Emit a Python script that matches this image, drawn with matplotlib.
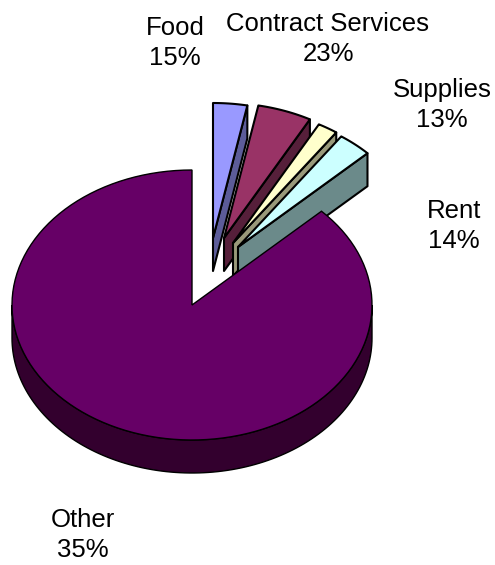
import numpy as np
import matplotlib
matplotlib.use("Agg")
import matplotlib.pyplot as plt
from matplotlib.patches import Polygon

categories = ["Food", "Contract Services", "Supplies", "Rent", "Other"]
labels_pct = [15, 23, 13, 14, 35]
# Drawn slice sweep (degrees, clockwise from top)
sweep_deg = [11.0, 17.5, 6.5, 11.0, 314.0]
explode_x = [21, 32, 41, 46, 0]
explode_y = [-67, -67, -62, -58, 0]
top_colors = ["#9999FF", "#993366", "#FFFFCC", "#CCFFFF", "#660066"]
side_colors = ["#5C5C99", "#561F3A", "#99997A", "#6B8A8A", "#33002E"]
label_x = [175, 328, 442, 454, 83]
label_y = [43, 39, 105, 226, 535]

CX, CY, RX, RY, DEPTH = 192, 305, 180, 135, 33
LW = 1.5

fig = plt.figure(figsize=(4.95, 5.65), dpi=100)
ax = fig.add_axes([0, 0, 1, 1])
ax.set_xlim(0, 495)
ax.set_ylim(565, 0)
ax.axis("off")


def rim(t0, t1, ox, oy, drop=0, n=120):
    t = np.radians(np.linspace(t0, t1, n))
    return np.column_stack([CX + ox + RX * np.sin(t),
                            CY + oy - RY * np.cos(t) + drop])


starts = np.concatenate([[0], np.cumsum(sweep_deg)[:-1]])
for i in range(4):
    t0, t1 = starts[i], starts[i] + sweep_deg[i]
    ox, oy = explode_x[i], explode_y[i]
    apex = np.array([CX + ox, CY + oy])
    edge = rim(t1, t1, ox, oy, n=1)[0]
    side = [apex, edge, edge + [0, DEPTH], apex + [0, DEPTH]]
    ax.add_patch(Polygon(side, closed=True, fc=side_colors[i], ec="black",
                         lw=LW, joinstyle="round", zorder=2 + i * 0.1))
    top = np.vstack([apex, rim(t0, t1, ox, oy)])
    ax.add_patch(Polygon(top, closed=True, fc=top_colors[i], ec="black",
                         lw=LW, joinstyle="round", zorder=2 + i * 0.1))

# Large slice: rim below, then face
t0, t1 = starts[4], starts[4] + sweep_deg[4]
upper = rim(90, 270, 0, 0)
lower = rim(270, 90, 0, 0, DEPTH)
ax.add_patch(Polygon(np.vstack([upper, lower]), closed=True, fc=side_colors[4],
                     ec="black", lw=1.0, zorder=4))
face = np.vstack([[CX, CY], rim(t0, t1, 0, 0)])
ax.add_patch(Polygon(face, closed=True, fc=top_colors[4], ec="black",
                     lw=1.0, zorder=5))

for name, pct, x, y in zip(categories, labels_pct, label_x, label_y):
    ax.text(x, y, f"{name}\n{pct}%", ha="center", va="center",
            fontsize=18.5, family="Liberation Sans", linespacing=1.35,
            color="black", zorder=6)

fig.savefig("out.png", dpi=100, facecolor="white")
